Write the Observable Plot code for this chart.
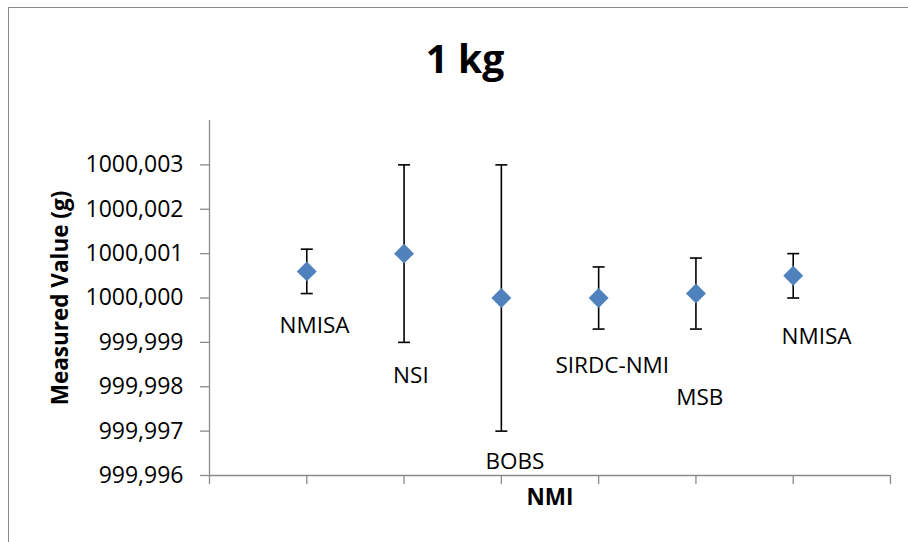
<!DOCTYPE html>
<html>
<head>
<meta charset="utf-8">
<script src="https://cdn.jsdelivr.net/npm/d3@7"></script>
<script src="https://cdn.jsdelivr.net/npm/@observablehq/plot@0.6"></script>
<style>
  html, body { margin: 0; padding: 0; background: #fff; overflow: hidden; }
  #wrap { position: relative; width: 908px; height: 542px; overflow: hidden; }
  #frame { position: absolute; left: 8px; top: 7px; width: 1200px; height: 1200px; border: 1.5px solid #8a8a8a; box-sizing: border-box; }
  #chart { position: absolute; left: 0; top: 0; }
</style>
</head>
<body>
<div id="wrap"><div id="frame"></div><div id="chart"></div></div>
<script>
// ---- data ----
const categories = ["NMISA", "NSI", "BOBS", "SIRDC-NMI", "MSB", "NMISA"];
const positions  = [1, 2, 3, 4, 5, 6];
const values     = [1000.0006, 1000.0010, 1000.0000, 1000.0000, 1000.0001, 1000.0005];
const upper      = [1000.0011, 1000.0030, 1000.0030, 1000.0007, 1000.0009, 1000.0010];
const lower      = [1000.0001, 999.9990, 999.9970, 999.9993, 999.9993, 1000.0000];
// data-label anchors (in axis units)
const labelX     = [1.08, 2.07, 3.14, 4.14, 5.04, 6.24];
const labelY     = [999.99938, 999.99825, 999.99631, 999.99848, 999.99775, 999.99912];
const yTicks     = [999.996, 999.997, 999.998, 999.999, 1000.000, 1000.001, 1000.002, 1000.003];
const xTicks     = [0, 1, 2, 3, 4, 5, 6, 7];
const titleText  = "1 kg";
const yTitle     = "Measured Value (g)";
const xTitle     = "NMI";

const rows = categories.map((c, i) => ({
  cat: c, x: positions[i], v: values[i], lo: lower[i], hi: upper[i], lx: labelX[i], ly: labelY[i]
}));

const capSymbol = {
  draw(ctx, size) {
    const r = Math.sqrt(size / Math.PI);
    ctx.moveTo(-r, 0);
    ctx.lineTo(r, 0);
  }
};

const fmt = d => d3.format(".3f")(d).replace(".", ",");
const axisGray = "#8a8a8a";

const chart = Plot.plot({
  width: 908,
  height: 542,
  marginLeft: 209,
  marginRight: 18,
  marginTop: 120,
  marginBottom: 67,
  style: { fontFamily: "'Open Sans', sans-serif", background: "transparent", color: "#000", overflow: "visible" },
  x: { domain: [0, 7] },
  y: { domain: [999.996, 1000.004] },
  marks: [
    Plot.ruleX([0], { stroke: axisGray, strokeWidth: 1.3 }),
    Plot.ruleY([999.996], { stroke: axisGray, strokeWidth: 1.3 }),
    Plot.axisY(yTicks, {
      tickSize: 9, tickPadding: 17, tickFormat: fmt, stroke: axisGray, strokeWidth: 1.3,
      fontSize: 23, label: null, fill: "#000"
    }),
    Plot.axisX(xTicks, {
      tickSize: 9, tickFormat: () => "", stroke: axisGray, strokeWidth: 1.3, label: null
    }),
    // error bars
    Plot.ruleX(rows, { x: "x", y1: "lo", y2: "hi", stroke: "#000", strokeWidth: 1.6 }),
    Plot.dot(rows, { x: "x", y: "hi", symbol: capSymbol, r: 6, stroke: "#000", strokeWidth: 1.6, fill: "none" }),
    Plot.dot(rows, { x: "x", y: "lo", symbol: capSymbol, r: 6, stroke: "#000", strokeWidth: 1.6, fill: "none" }),
    // points
    Plot.dot(rows, { x: "x", y: "v", symbol: "diamond2", r: 9, fill: "#4F81BD", stroke: "none" }),
    // data labels
    Plot.text(rows, { x: "lx", y: "ly", text: "cat", fontSize: 22.5, fill: "#000" }),
    // titles
    Plot.text([titleText], { frameAnchor: "top", textAnchor: "middle", lineAnchor: "middle", dx: -85, dy: -60, fontSize: 39, fontWeight: "bold", fill: "#000" }),
    Plot.text([yTitle], { frameAnchor: "left", textAnchor: "middle", lineAnchor: "middle", rotate: -90, dx: -149, fontSize: 22.5, fontWeight: "bold", fill: "#000" }),
    Plot.text([xTitle], { frameAnchor: "bottom", textAnchor: "middle", lineAnchor: "middle", dy: 22.5, fontSize: 22.5, fontWeight: "bold", fill: "#000" })
  ]
});

document.getElementById("chart").appendChild(chart);
</script>
</body>
</html>
